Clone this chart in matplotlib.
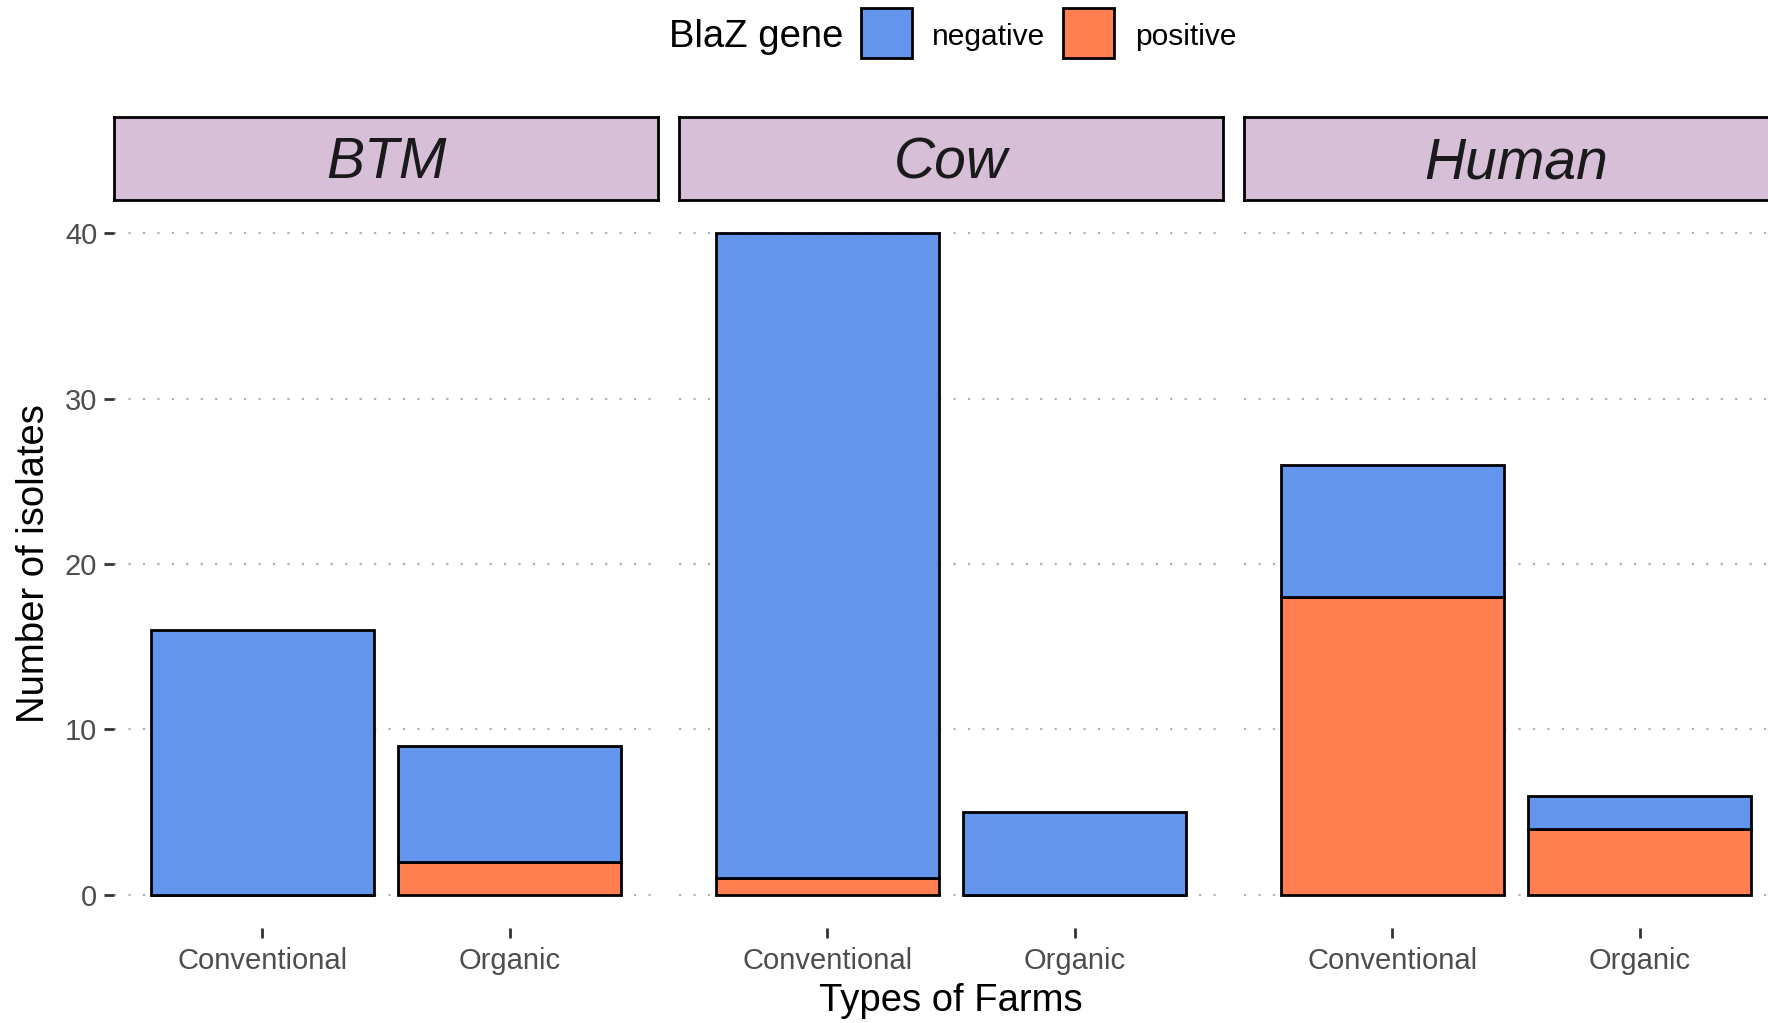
import matplotlib.pyplot as plt
from matplotlib.patches import Rectangle

plt.rcParams['font.family'] = ['Liberation Sans', 'DejaVu Sans']

# isolates per source / farm type, split by blaZ result
sources = ["BTM", "Cow", "Human"]
farm_types = ["Conventional", "Organic"]
positive = {"BTM": [0, 2], "Cow": [1, 0], "Human": [18, 4]}
negative = {"BTM": [16, 7], "Cow": [39, 5], "Human": [8, 2]}
y_ticks = [0, 10, 20, 30, 40]

col_neg = "#6495ED"
col_pos = "#FF7F50"
strip_col = "#D8BFD8"

W, H = 1768, 1023
fig = plt.figure(figsize=(W / 100, H / 100), dpi=100)

panel_left = 114
panel_w = 544
panel_step = 565
panel_top = 200
panel_bot = 928
strip_top = 117

for i, src in enumerate(sources):
    x0 = panel_left + i * panel_step
    ax = fig.add_axes([x0 / W, 1 - panel_bot / H, panel_w / W, (panel_bot - panel_top) / H])
    xs = range(len(farm_types))
    pos = positive[src]
    neg = negative[src]
    ax.bar(xs, pos, width=0.9, color=col_pos, edgecolor="black", linewidth=2)
    ax.bar(xs, neg, bottom=pos, width=0.9, color=col_neg, edgecolor="black", linewidth=2)
    ax.set_xlim(-0.6, 1.6)
    ax.set_ylim(-2, 42)
    ax.set_axisbelow(True)
    ax.yaxis.grid(True, color="#B0B0B0", linewidth=1.6, linestyle=(0, (1, 5.5)))
    ax.set_xticks(list(xs))
    ax.set_xticklabels(farm_types, fontsize=21, color="#4D4D4D")
    ax.set_yticks(y_ticks)
    ax.tick_params(axis="x", length=7, width=2, color="#333333", pad=7)
    if i == 0:
        ax.tick_params(axis="y", length=7, width=2, color="#333333", pad=5,
                       labelsize=21, labelcolor="#4D4D4D")
    else:
        ax.tick_params(axis="y", length=0, labelleft=False)
    for s in ax.spines.values():
        s.set_visible(False)

    # facet strip
    sx = fig.add_axes([x0 / W, 1 - panel_top / H, panel_w / W, (panel_top - strip_top) / H])
    sx.set_facecolor(strip_col)
    sx.set_xticks([])
    sx.set_yticks([])
    for s in sx.spines.values():
        s.set_linewidth(2)
        s.set_color("black")
    sx.text(0.5, 0.44, src, transform=sx.transAxes, ha="center", va="center",
            fontsize=41, fontstyle="italic", color="#1A1A1A")

fig.text(951 / W, 1 - 1001 / H, "Types of Farms", ha="center", va="center", fontsize=27.5)
fig.text(34 / W, 1 - 564 / H, "Number of isolates", ha="center", va="center",
         rotation=90, fontsize=27.5)

# legend across the top
ly = 1 - 37 / H
fig.text(669 / W, ly, "BlaZ gene", ha="left", va="center", fontsize=27.5)
for bx, tx, col, lab in [(861, 932, col_neg, "negative"), (1063, 1135, col_pos, "positive")]:
    fig.add_artist(Rectangle((bx / W, 1 - 58 / H), 51 / W, 50 / H, transform=fig.transFigure,
                             facecolor=col, edgecolor="black", linewidth=2))
    fig.text(tx / W, ly, lab, ha="left", va="center", fontsize=21.5)

fig.savefig("out.png", dpi=100)
